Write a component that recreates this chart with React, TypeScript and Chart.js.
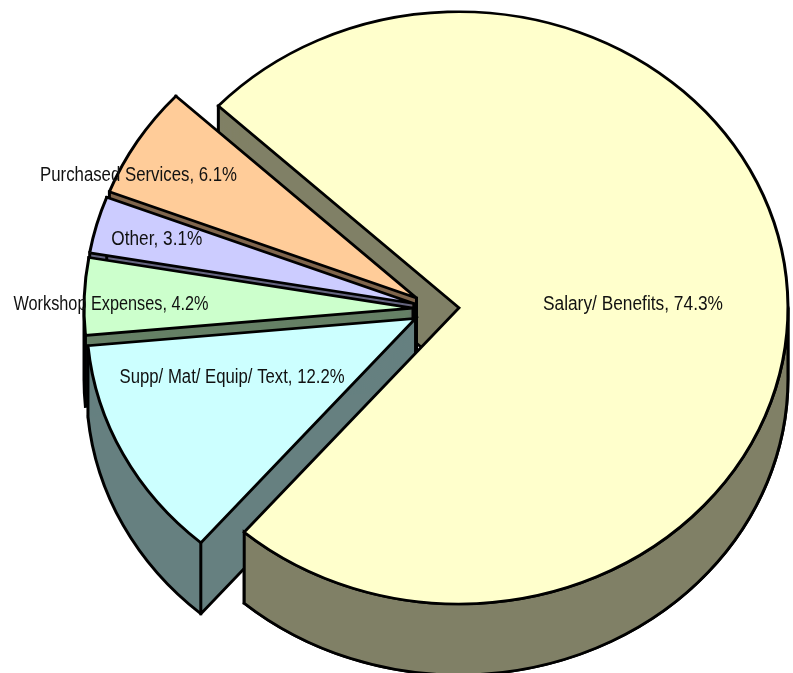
import React, { useEffect, useRef } from "react";
import { Chart, registerables } from "chart.js";

Chart.register(...registerables);

const categories = ["Salary/ Benefits", "Supp/ Mat/ Equip/ Text", "Workshop Expenses", "Other", "Purchased Services"];
const shares = [74.3, 12.2, 4.2, 3.1, 6.1];
const topColors = ["#FFFFCC", "#CCFFFF", "#CCFFCC", "#CCCCFF", "#FFCC99"];
const wallColors = ["#808066", "#668080", "#668066", "#666680", "#80664D"];
const labelOffsetX = [174, -183.5, -302, -257, -278];
const labelOffsetY = [-3, 59, -4, -64, -123];
const labelWidths = [180, 225, 195, 91, 197];

const CENTER_X = 436;
const CENTER_Y = 309;
const Y_SQUASH = 0.9;
const EXPLODE = 23;
const DEPTH = 71;

function place(ctx: CanvasRenderingContext2D, arc: any) {
  const mid = (arc.startAngle + arc.endAngle) / 2;
  ctx.translate(CENTER_X + EXPLODE * Math.cos(mid), CENTER_Y + EXPLODE * Y_SQUASH * Math.sin(mid));
  ctx.scale(1, Y_SQUASH);
  ctx.miterLimit = 3;
}

function wedge(ctx: CanvasRenderingContext2D, arc: any, y: number) {
  ctx.beginPath();
  ctx.moveTo(0, y);
  ctx.arc(0, y, arc.outerRadius, arc.startAngle, arc.endAngle);
  ctx.closePath();
}

function extrude(ctx: CanvasRenderingContext2D, arc: any, color: string) {
  ctx.save();
  place(ctx, arc);
  ctx.lineWidth = 3;
  ctx.lineJoin = "miter";
  ctx.lineCap = "square";
  ctx.strokeStyle = "#000";
  ctx.fillStyle = color;
  const h = DEPTH / Y_SQUASH;
  for (let y = 0; y <= h; y += 0.75) {
    wedge(ctx, arc, y);
    ctx.fill();
  }
  const r = arc.outerRadius;
  const s = arc.startAngle;
  const e = arc.endAngle;
  ctx.beginPath();
  // bottom rim: only the stretches of the lower outline that face the viewer
  for (const base of [-Math.PI * 2, 0, Math.PI * 2]) {
    const a0 = Math.max(s, base);
    const a1 = Math.min(e, base + Math.PI);
    if (a1 > a0) {
      ctx.moveTo(r * Math.cos(a0), r * Math.sin(a0) + h);
      ctx.arc(0, h, r, a0, a1);
    }
  }
  if (Math.cos(s) < 0) {
    ctx.moveTo(0, h);
    ctx.lineTo(r * Math.cos(s), r * Math.sin(s) + h);
  }
  if (Math.cos(e) > 0) {
    ctx.moveTo(0, h);
    ctx.lineTo(r * Math.cos(e), r * Math.sin(e) + h);
  }
  ctx.moveTo(0, 0);
  ctx.lineTo(0, h);
  const angles = [s, e];
  for (const a of [-Math.PI * 2, -Math.PI, 0, Math.PI, Math.PI * 2]) {
    if (a > s && a < e) angles.push(a);
  }
  for (const a of angles) {
    ctx.moveTo(r * Math.cos(a), r * Math.sin(a));
    ctx.lineTo(r * Math.cos(a), r * Math.sin(a) + h);
  }
  ctx.stroke();
  ctx.restore();
}

function outerBand(ctx: CanvasRenderingContext2D, arc: any, color: string) {
  ctx.save();
  place(ctx, arc);
  const h = DEPTH / Y_SQUASH;
  const r = arc.outerRadius;
  const a0 = Math.max(arc.startAngle, 0);
  const a1 = Math.min(arc.endAngle, Math.PI);
  ctx.beginPath();
  ctx.arc(0, 0, r, a0, a1);
  ctx.arc(0, h, r, a1, a0, true);
  ctx.closePath();
  ctx.fillStyle = color;
  ctx.fill();
  ctx.lineWidth = 3;
  ctx.lineJoin = "miter";
  ctx.strokeStyle = "#000";
  ctx.stroke();
  ctx.restore();
}

function top(ctx: CanvasRenderingContext2D, arc: any) {
  ctx.save();
  place(ctx, arc);
  ctx.translate(-arc.x, -arc.y);
  arc.draw(ctx);
  ctx.restore();
}

const pie3d = {
  id: "pie3d",
  beforeDatasetsDraw(chart: any) {
    const ctx = chart.ctx as CanvasRenderingContext2D;
    const arcs = chart.getDatasetMeta(0).data;
    extrude(ctx, arcs[0], wallColors[0]);
    for (const i of [4, 3, 2, 1]) {
      extrude(ctx, arcs[i], wallColors[i]);
      top(ctx, arcs[i]);
    }
    outerBand(ctx, arcs[0], wallColors[0]);
    top(ctx, arcs[0]);

    ctx.save();
    ctx.fillStyle = "#111";
    ctx.font = '20px "Liberation Sans", Arial, sans-serif';
    ctx.textAlign = "center";
    ctx.textBaseline = "middle";
    arcs.forEach((arc: any, i: number) => {
      const mid = (arc.startAngle + arc.endAngle) / 2;
      const ax = CENTER_X + EXPLODE * Math.cos(mid);
      const ay = CENTER_Y + EXPLODE * Y_SQUASH * Math.sin(mid);
      const text = `${categories[i]}, ${shares[i].toFixed(1)}%`;
      ctx.fillText(text, ax + labelOffsetX[i], ay + labelOffsetY[i], labelWidths[i]);
    });
    ctx.restore();
    return false;
  },
};

export default function App() {
  const ref = useRef<HTMLCanvasElement>(null);
  useEffect(() => {
    if (!ref.current) return;
    const chart = new Chart(ref.current, {
      type: "pie",
      data: {
        labels: categories,
        datasets: [
          {
            data: shares,
            backgroundColor: topColors,
            borderColor: "#000",
            borderWidth: 3,
            borderJoinStyle: "miter",
          },
        ],
      },
      options: {
        responsive: false,
        animation: false,
        rotation: -47,
        layout: { padding: 6 },
        plugins: { legend: { display: false }, tooltip: { enabled: false } },
      },
      plugins: [pie3d],
    } as any);
    return () => chart.destroy();
  }, []);
  return (
    <div style={{ position: "absolute", left: 0, top: 0, width: 793, height: 673, overflow: "hidden" }}>
      <canvas ref={ref} width={793} height={673} style={{ display: "block" }} />
    </div>
  );
}
